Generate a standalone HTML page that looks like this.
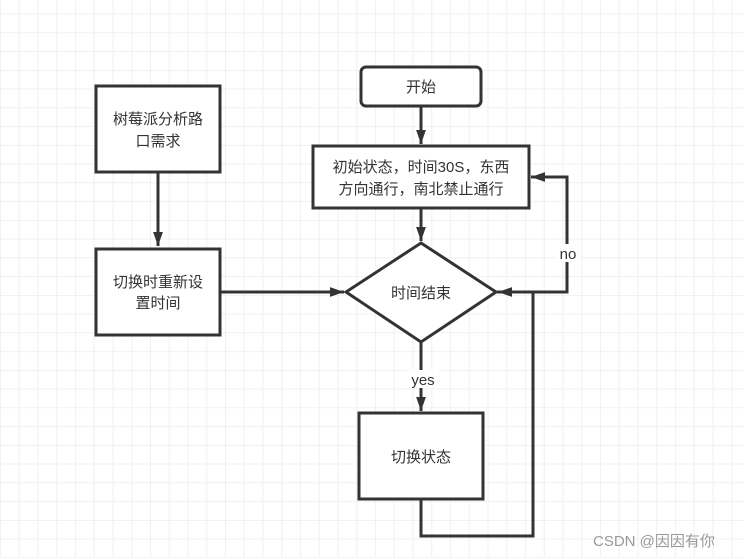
<!DOCTYPE html>
<html><head><meta charset="utf-8"><style>
html,body{margin:0;padding:0;background:#fff}
svg{display:block}
text{font-family:"Liberation Sans","Noto Sans CJK SC",sans-serif;font-size:15px;fill:#333}
</style></head><body>
<svg width="744" height="558" viewBox="0 0 744 558" xmlns="http://www.w3.org/2000/svg">
<defs>
<pattern id="g" x="0.5" y="-4.75" width="75" height="75" patternUnits="userSpaceOnUse">
<path d="M18.75 0V75M37.5 0V75M56.25 0V75M0 18.75H75M0 37.5H75M0 56.25H75" stroke="#f0f0f0" stroke-width="1" fill="none"/>
<path d="M0 0V75M0 0H75" stroke="#e4e4e4" stroke-width="1" fill="none"/>
</pattern>
<marker id="a" markerWidth="10" markerHeight="10" refX="9" refY="5" orient="auto" markerUnits="userSpaceOnUse">
<path d="M0 0L10 5L0 10L2 5Z" fill="#333"/>
</marker>
<marker id="b" viewBox="0 0 10 10" markerWidth="14" markerHeight="14" refX="10" refY="5" orient="auto" markerUnits="userSpaceOnUse">
<path d="M0 1.5L10 5L0 8.5Z" fill="#333"/>
</marker>
</defs>
<rect width="744" height="558" fill="url(#g)"/>
<g stroke="#333" stroke-width="3" fill="#fff">
<rect x="96" y="86" width="124" height="86"/>
<rect x="96" y="249" width="124" height="86"/>
<rect x="361" y="67" width="120" height="39" rx="5"/>
<rect x="313" y="146" width="216" height="62"/>
<polygon points="421,243 496,292 421,342 346,292"/>
<rect x="359" y="413" width="124" height="86"/>
</g>
<g stroke="#333" stroke-width="3" fill="none">
<line x1="158" y1="172" x2="158" y2="246" marker-end="url(#b)"/>
<line x1="421" y1="106" x2="421" y2="144" marker-end="url(#b)"/>
<line x1="421" y1="208" x2="421" y2="241" marker-end="url(#b)"/>
<line x1="220" y1="292" x2="344" y2="292" marker-end="url(#b)"/>
<line x1="421" y1="342" x2="421" y2="411" marker-end="url(#b)"/>
<polyline points="496,292 567,292 567,177 531,177" marker-end="url(#b)"/>
<polyline points="421,499 421,536 533,536 533,292 498,292" marker-end="url(#b)"/>
</g>
<rect x="556" y="244" width="24" height="18" fill="#fff"/>
<rect x="408" y="370" width="30" height="18" fill="#fff"/>
<g text-anchor="middle">
<text x="158" y="124">树莓派分析路</text>
<text x="158" y="146">口需求</text>
<text x="158" y="287">切换时重新设</text>
<text x="158" y="308">置时间</text>
<text x="421" y="92">开始</text>
<text x="421" y="172">初始状态，时间30S，东西</text>
<text x="421" y="194">方向通行，南北禁止通行</text>
<text x="421" y="298">时间结束</text>
<text x="421" y="462">切换状态</text>
<text x="568" y="259">no</text>
<text x="423" y="385">yes</text>
</g>
<text x="593" y="546" style="fill:#999;font-size:15px">CSDN @因因有你</text>
</svg>
</body></html>
